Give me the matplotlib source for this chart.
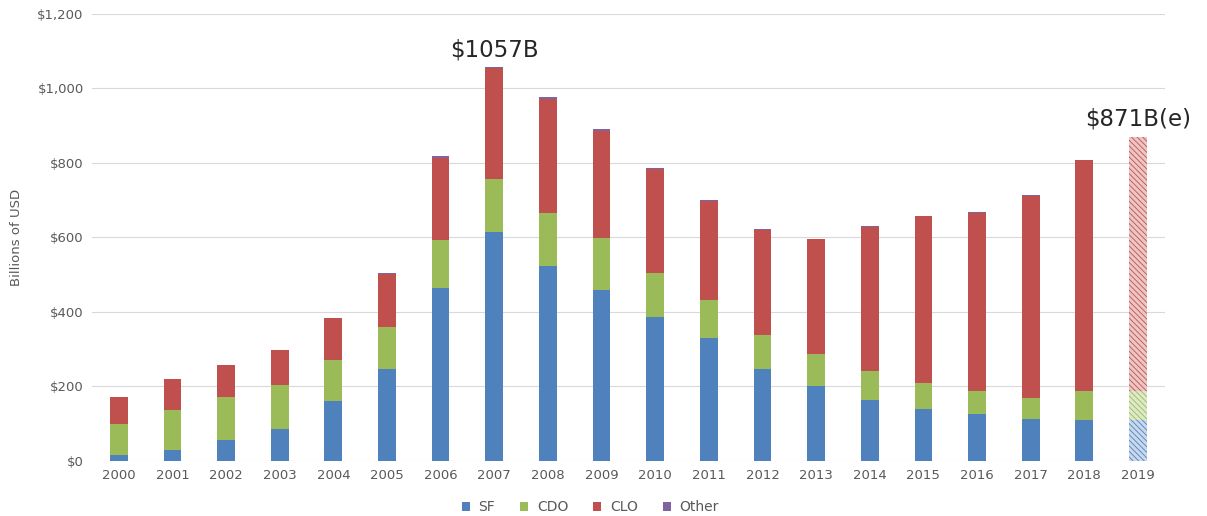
import matplotlib.pyplot as plt
import numpy as np

years = [str(y) for y in range(2000, 2020)]
sf = [17, 30, 57, 86, 160, 246, 465, 614, 523, 458, 386, 331, 248, 201, 165, 140, 125, 113, 111, 111]
cdo = [81, 106, 114, 117, 112, 115, 129, 144, 143, 141, 119, 100, 91, 87, 76, 70, 64, 56, 76, 76]
clo = [75, 83, 86, 94, 112, 141, 219, 296, 305, 288, 279, 267, 281, 307, 388, 448, 478, 543, 621, 684]
other = [0, 0, 0, 0, 0, 3, 6, 3, 7, 3, 3, 2, 2, 1, 1, 1, 1, 1, 1, 0]
estimate = [False] * 19 + [True]

colors = {"SF": "#4F81BD", "CDO": "#9BBB59", "CLO": "#C0504D", "Other": "#8064A2"}
light = {"SF": "#C9D8EC", "CDO": "#DDE9C8", "CLO": "#ECC6C5", "Other": "#D5CBE1"}

plt.rcParams["hatch.linewidth"] = 0.6

fig = plt.figure(figsize=(12.07, 5.16), dpi=100)
ax = fig.add_axes([0.0762, 0.1066, 0.8888, 0.8663])

x = np.arange(len(years))
w = 0.33
bottom = np.zeros(len(years))
solid = ~np.array(estimate)
for name, vals in [("SF", sf), ("CDO", cdo), ("CLO", clo), ("Other", other)]:
    vals = np.array(vals, dtype=float)
    c = colors[name]
    ax.bar(x[solid], vals[solid], w, bottom=bottom[solid], color=c, label=name, zorder=3)
    ax.bar(x[~solid], vals[~solid], w, bottom=bottom[~solid], facecolor=light[name],
           edgecolor=c, hatch="\\\\\\\\\\\\", linewidth=0, zorder=3)
    bottom += vals

ax.set_xlim(-0.5, len(years) - 0.5)
ax.set_ylim(0, 1200)
ax.set_yticks(range(0, 1201, 200))
ax.set_yticklabels(["$0", "$200", "$400", "$600", "$800", "$1,000", "$1,200"])
ax.set_xticks(x)
ax.set_xticklabels(years)
ax.tick_params(length=0, labelsize=9.5, colors="#595959", pad=6)
ax.grid(axis="y", color="#D9D9D9", linewidth=0.8, zorder=0)
for s in ax.spines.values():
    s.set_visible(False)
ax.set_ylabel("Billions of USD", fontsize=9.5, color="#595959", labelpad=10)

ax.text(7, 1072, "$1057B", ha="center", va="bottom", fontsize=16.5, color="#262626")
ax.text(19, 888, "$871B(e)", ha="center", va="bottom", fontsize=16.5, color="#262626")

leg = fig.legend(loc="center", bbox_to_anchor=(0.489, 0.017), ncol=4, frameon=False,
                 fontsize=10, handlelength=0.6, handleheight=0.6, handletextpad=0.6,
                 columnspacing=1.8)
for t in leg.get_texts():
    t.set_color("#595959")

fig.savefig("out.png", dpi=100)
